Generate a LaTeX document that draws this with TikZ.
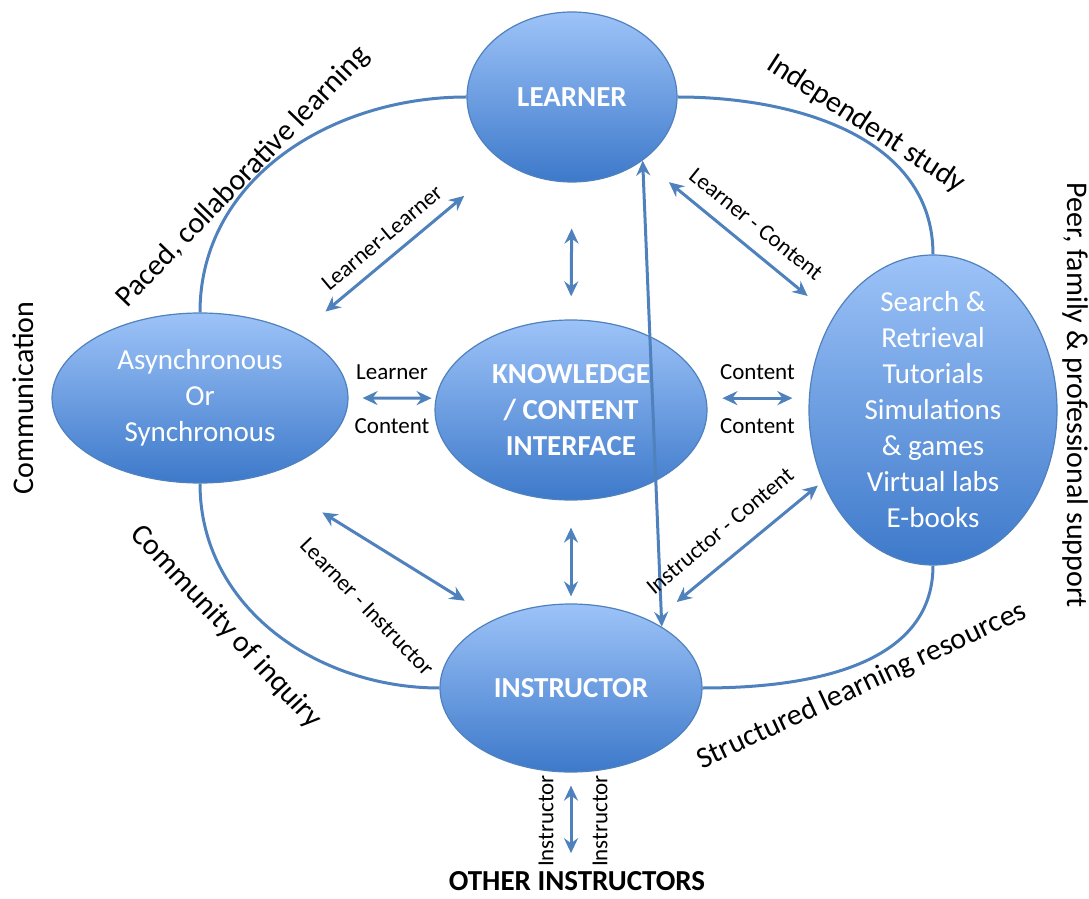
\documentclass[tikz,border=0pt]{standalone}
\usepackage{fontspec}
\setmainfont{Carlito}
\usepackage{xcolor}
\usetikzlibrary{shapes.geometric,arrows.meta}
\definecolor{rimblue}{HTML}{4F81BD}
\definecolor{toplight}{HTML}{9DC3F8}
\definecolor{botdark}{HTML}{3D79CA}

\begin{document}
\begin{tikzpicture}[x=1pt,y=1pt,
  bubble/.style={ellipse,draw=rimblue,line width=1.2pt,top color=toplight,bottom color=botdark,inner sep=0pt},
  inside/.style={text=white,align=center,font=\fontsize{29}{36}\selectfont},
  insidebf/.style={inside,font=\fontsize{29}{36}\selectfont\bfseries},
  ring/.style={draw=rimblue,line width=3pt},
  link/.style={draw=rimblue,line width=3pt,{Stealth[length=15pt,width=14pt,inset=5pt]}-{Stealth[length=15pt,width=14pt,inset=5pt]}},
  tag/.style={inner sep=1pt,font=\fontsize{23}{27}\selectfont},
  side/.style={inner sep=1pt,font=\fontsize{30}{36}\selectfont}]
\useasboundingbox (0,0) rectangle (1089,898);

\node [bubble,minimum width=210pt,minimum height=170pt,label={[insidebf,name=learnertxt]center:LEARNER}] (learner) at (572,801) {};
\node [bubble,minimum width=296pt,minimum height=170pt,label={[inside,name=asynctxt]center:Asynchronous\\Or\\Synchronous}] (async) at (200,500) {};
\node [bubble,minimum width=272pt,minimum height=180pt,label={[insidebf,name=knowtxt]center:KNOWLEDGE\\/ CONTENT\\INTERFACE}] (know) at (571,488) {};
\node [bubble,minimum width=248pt,minimum height=310pt,label={[inside,name=toolstxt]center:Search \&\\Retrieval\\Tutorials\\Simulations\\\& games\\Virtual labs\\E-books}] (tools) at (933,488) {};
\node [bubble,minimum width=262pt,minimum height=168pt,label={[insidebf,name=instrtxt]center:INSTRUCTOR}] (instr) at (571,210) {};
\node [font=\fontsize{29}{36}\selectfont\bfseries,inner sep=0pt] (others) at (577,17) {OTHER INSTRUCTORS};

\draw [ring] (learner.west) to[out=180,in=90] (async.north);
\draw [ring] (learner.east) to[out=0,in=90] (tools.north);
\draw [ring] (async.south) to[out=-90,in=180] (instr.west);
\draw [ring] (tools.south) to[out=-90,in=0] (instr.east);

\draw [link,shorten <=35pt,shorten >=52pt] (async.33) -- (learner.224);
\draw [link,shorten <=34pt,shorten >=33pt] (learner.318) -- (tools.137);
\draw [link,shorten <=46pt,shorten >=23pt] (learner.south) -- (know.north);
\draw [link,shorten <=14pt,shorten >=4pt] (async.east) -- (know.175)
  node [tag,midway,yshift=26pt] (lrnleft) {Learner}
  node [tag,midway,yshift=-28pt] (cntleft) {Content};
\draw [link,shorten <=16pt,shorten >=16pt] (know.5) -- (know.5 -| tools.west)
  node [tag,midway,yshift=26pt] (cntright) {Content}
  node [tag,midway,yshift=-28pt] (cntright2) {Content};
\draw [link,shorten <=27pt,shorten >=7pt] (know.south) -- (instr.north);
\draw [link,shorten <=70pt,shorten >=35pt] (async.309) -- (instr.138);
\draw [link,shorten <=31pt,shorten >=6pt] (instr.39) -- (tools.213);
\draw [link] (learner.318) -- (instr.34);
\draw [link,shorten <=13pt,shorten >=18pt] (instr.south) -- (instr.south |- others.north);

\node [tag,rotate=40] (lllab) at (382,660) {Learner-Learner};
\node [tag,rotate=-39] (lclab) at (756,674) {Learner - Content};
\node [tag,rotate=-46] (lilab) at (367,291) {Learner - Instructor};
\node [tag,rotate=40] (iclab) at (720,367) {Instructor - Content};
\node [tag,rotate=90] (instleft) at (546,77) {Instructor};
\node [tag,rotate=90] (instright) at (600,77) {Instructor};

\node [side,rotate=46] (paced) at (243,721) {Paced, collaborative learning};
\node [side,rotate=-33] (indep) at (866,774) {Independent study};
\node [side,rotate=-90] (peer) at (1075,503) {Peer, family \& professional support};
\node [side,rotate=90] (comm) at (23,500) {Communication};
\node [side,rotate=-47] (inquiry) at (226,271) {Community of inquiry};
\node [side,rotate=25] (struct) at (862,212) {Structured learning resources};
\end{tikzpicture}
\end{document}
